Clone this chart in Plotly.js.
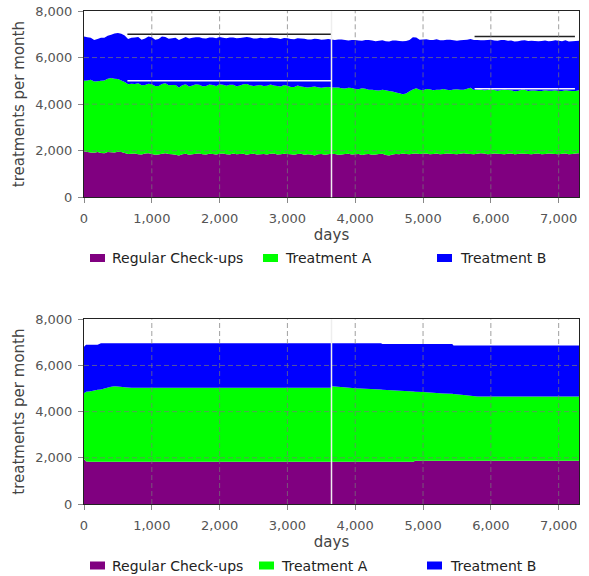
<!DOCTYPE html>
<html>
<head>
<meta charset="utf-8">
<script src="https://cdn.plot.ly/plotly-3.0.1.min.js"></script>
<style>
  html, body { margin: 0; padding: 0; background: #ffffff; }
  #chart { width: 589px; height: 576px; }
</style>
</head>
<body>
<div id="chart"></div>
<script>
// ---------- data ----------
// top chart: stochastic run, one value every 50 days
const days = [
  0,50,100,150,200,250,300,350,400,450,
  500,550,600,650,700,750,800,850,900,950,
  1000,1050,1100,1150,1200,1250,1300,1350,1400,1450,
  1500,1550,1600,1650,1700,1750,1800,1850,1900,1950,
  2000,2050,2100,2150,2200,2250,2300,2350,2400,2450,
  2500,2550,2600,2650,2700,2750,2800,2850,2900,2950,
  3000,3050,3100,3150,3200,3250,3300,3350,3400,3450,
  3500,3550,3600,3650,3700,3750,3800,3850,3900,3950,
  4000,4050,4100,4150,4200,4250,4300,4350,4400,4450,
  4500,4550,4600,4650,4700,4750,4800,4850,4900,4950,
  5000,5050,5100,5150,5200,5250,5300,5350,5400,5450,
  5500,5550,5600,5650,5700,5750,5800,5850,5900,5950,
  6000,6050,6100,6150,6200,6250,6300,6350,6400,6450,
  6500,6550,6600,6650,6700,6750,6800,6850,6900,6950,
  7000,7050,7100,7150,7200,7250,7300
];
const checkups = [
  1980,1940,1920,1910,1950,1900,1890,1940,1930,1920,
  1960,1940,1900,1860,1870,1880,1850,1840,1880,1890,
  1860,1830,1840,1870,1890,1860,1850,1830,1800,1850,
  1870,1830,1850,1870,1880,1850,1840,1870,1860,1840,
  1870,1880,1850,1840,1880,1850,1860,1870,1830,1860,
  1870,1840,1850,1860,1840,1870,1880,1840,1850,1870,
  1860,1850,1830,1860,1870,1830,1850,1840,1800,1850,
  1860,1830,1850,1870,1860,1830,1840,1860,1870,1840,
  1850,1860,1820,1850,1860,1830,1840,1860,1870,1820,
  1790,1840,1860,1850,1880,1860,1850,1870,1880,1860,
  1870,1880,1850,1860,1880,1850,1860,1880,1870,1860,
  1850,1870,1890,1870,1860,1850,1870,1890,1880,1850,
  1860,1880,1870,1860,1850,1870,1880,1850,1860,1880,
  1870,1860,1850,1870,1880,1850,1860,1880,1870,1860,
  1850,1870,1880,1850,1860,1880,1890
];
const treatmentA = [
  3020,3080,3130,3060,3030,3100,3130,3150,3190,3170,
  3120,3080,3050,2990,3010,2980,3050,2970,2940,2990,
  2990,2950,2940,3000,3010,2950,2970,2990,2920,2960,
  2980,2930,2950,2980,2950,2920,2940,2970,2960,2940,
  2980,2950,2940,2990,2950,2920,2940,2980,3030,2950,
  2910,2960,2970,2920,2950,2970,2920,2940,2910,2950,
  2930,2890,2910,2940,2890,2910,2870,2900,2960,2880,
  2840,2900,2890,2850,2860,2880,2840,2810,2830,2850,
  2800,2780,2860,2810,2760,2790,2760,2730,2750,2780,
  2770,2700,2640,2620,2540,2600,2700,2760,2800,2760,
  2730,2770,2790,2740,2740,2770,2790,2740,2730,2770,
  2790,2750,2730,2790,2840,2760,2750,2740,2720,2760,
  2780,2730,2710,2750,2770,2740,2720,2700,2710,2740,
  2750,2710,2740,2720,2680,2710,2740,2700,2710,2740,
  2720,2700,2720,2730,2700,2690,2710
];
const treatmentB = [
  1900,1850,1800,1780,1820,1850,1830,1850,1860,1940,
  1970,2000,2000,1950,1970,2000,1980,1960,2000,2030,
  2020,1990,2020,2040,1980,2000,2010,2030,2040,2010,
  2030,2060,2050,2020,2040,2060,2040,2020,2040,2050,
  2030,2020,2040,2030,2030,2060,2040,2010,2020,2050,
  2040,2020,2030,2050,2040,2020,2040,2050,2040,2020,
  2040,2060,2050,2030,2060,2070,2060,2040,2050,2070,
  2070,2050,2060,2060,2040,2070,2100,2080,2030,2070,
  2110,2090,2040,2100,2130,2110,2100,2130,2120,2100,
  2130,2190,2230,2240,2280,2250,2210,2240,2180,2150,
  2180,2140,2120,2160,2170,2120,2090,2150,2170,2110,
  2080,2120,2140,2110,2100,2150,2140,2110,2140,2140,
  2130,2120,2140,2150,2130,2110,2130,2140,2130,2110,
  2120,2140,2130,2120,2140,2150,2130,2120,2130,2140,
  2150,2130,2140,2110,2140,2140,2120
];
// reference levels drawn over the top chart (null = gap)
const refDays  = [640, 3650, null, 5760, 7240];
const refTotal = [7000, 7000, null, 6900, 6900];
const refA     = [5000, 5000, null, 4660, 4660];

// bottom chart: deterministic run
const daysSmooth = [0,30,100,200,250,300,400,450,500,600,700,3640,3660,4000,4300,4380,4400,4600,4860,4880,5000,5300,5430,5450,5600,5800,7300];
const checkupsSmooth = [1950,1840,1830,1830,1830,1830,1830,1830,1830,1830,1830,1830,1830,1830,1830,1830,1830,1830,1830,1875,1875,1875,1875,1875,1875,1875,1875];
const treatmentASmooth = [2850,3020,3050,3120,3130,3170,3250,3270,3260,3230,3200,3200,3270,3180,3140,3125,3120,3090,3040,2990,2975,2915,2895,2890,2845,2785,2785];
const treatmentBSmooth = [2010,2040,2020,1950,2000,1960,1880,1860,1870,1900,1930,1930,1860,1950,1990,2005,1975,2005,2055,2060,2075,2135,2155,2095,2140,2200,2200];

const seriesNames = ['Regular Check-ups', 'Treatment A', 'Treatment B'];
const switchDay = 3650;
const xTicks = [1000, 2000, 3000, 4000, 5000, 6000, 7000];
const yTicks = [2000, 4000, 6000];

// ---------- styling ----------
const colors = ['#800080', '#00ff00', '#0000ff'];
const FONT = 'DejaVu Sans, Verdana, sans-serif';
const W = 589, H = 576;
const M = { l: 84, r: 10, t: 11, b: 72 };
const plotW = W - M.l - M.r, plotH = H - M.t - M.b;
const px = x => (x - M.l) / plotW;          // pixel -> paper x
const py = y => (H - M.b - y) / plotH;      // pixel -> paper y

function area(x, y, i, xa, ya, grp) {
  return {
    type: 'scatter', mode: 'none', x: x, y: y, name: seriesNames[i],
    stackgroup: grp, fillcolor: colors[i], xaxis: xa, yaxis: ya,
    hoverinfo: 'skip', showlegend: false
  };
}

const traces = [
  area(days, checkups, 0, 'x', 'y', 'top'),
  area(days, treatmentA, 1, 'x', 'y', 'top'),
  area(days, treatmentB, 2, 'x', 'y', 'top'),
  { type: 'scatter', mode: 'lines', x: refDays, y: refTotal, xaxis: 'x', yaxis: 'y',
    line: { color: '#222222', width: 1.5 }, hoverinfo: 'skip', showlegend: false, connectgaps: false },
  { type: 'scatter', mode: 'lines', x: refDays, y: refA, xaxis: 'x', yaxis: 'y',
    line: { color: '#f4f4ff', width: 1.5 }, hoverinfo: 'skip', showlegend: false, connectgaps: false },
  area(daysSmooth, checkupsSmooth, 0, 'x2', 'y2', 'bottom'),
  area(daysSmooth, treatmentASmooth, 1, 'x2', 'y2', 'bottom'),
  area(daysSmooth, treatmentBSmooth, 2, 'x2', 'y2', 'bottom')
];

function xaxis(anchor) {
  return {
    anchor: anchor, domain: [0, 1], range: [0, 7300], dtick: 1000, tick0: 0,
    tickformat: ',d', showgrid: false, zeroline: false,
    showline: true, mirror: true, linecolor: '#222222', linewidth: 1,
    ticks: 'outside', ticklen: 5, tickcolor: '#888888',
    tickfont: { family: FONT, size: 13, color: '#555555' },
    ticklabelstandoff: 4,
    title: { text: 'days', font: { family: FONT, size: 15, color: '#444444' }, standoff: 2 },
    fixedrange: true
  };
}
function yaxis(anchor, domain) {
  return {
    anchor: anchor, domain: domain, range: [0, 8000], dtick: 2000, tick0: 0,
    tickformat: ',d', showgrid: false, zeroline: false,
    showline: true, mirror: true, linecolor: '#222222', linewidth: 1,
    ticks: 'outside', ticklen: 5, tickcolor: '#888888',
    tickfont: { family: FONT, size: 13, color: '#555555' },
    ticklabelstandoff: 3,
    title: { text: 'treatments per month', font: { family: FONT, size: 15, color: '#444444' }, standoff: 6 },
    fixedrange: true
  };
}

const topDomain = [py(197.3), 1];
const botDomain = [0, py(319.3)];

const shapes = [];
const gridLine = { color: 'rgba(120,120,120,0.7)', width: 1, dash: '5px,3px' };
[['x', 'y'], ['x2', 'y2']].forEach(([xa, ya]) => {
  xTicks.forEach(t => shapes.push({ type: 'line', layer: 'above', xref: xa, yref: ya + ' domain',
    x0: t, x1: t, y0: 0, y1: 1, line: gridLine }));
  yTicks.forEach(t => shapes.push({ type: 'line', layer: 'above', xref: xa + ' domain', yref: ya,
    x0: 0, x1: 1, y0: t, y1: t, line: gridLine }));
  shapes.push({ type: 'line', layer: 'above', xref: xa, yref: ya + ' domain',
    x0: switchDay, x1: switchDay, y0: 0, y1: 1, line: { color: '#eeeeee', width: 1.5 } });
});

// legends (one under each chart)
const annotations = [];
const legendRows = [
  { y: 258, sq: [90, 263, 437], tx: [110, 283, 458] },
  { y: 565.5, sq: [90, 259, 427], tx: [110, 279, 448] }
];
legendRows.forEach(row => {
  seriesNames.forEach((name, i) => {
    shapes.push({ type: 'rect', xref: 'paper', yref: 'paper',
      x0: px(row.sq[i]), x1: px(row.sq[i] + 15), y0: py(row.y + 4), y1: py(row.y - 4),
      fillcolor: colors[i], line: { width: 0 } });
    annotations.push({ xref: 'paper', yref: 'paper', x: px(row.tx[i]), y: py(row.y),
      xanchor: 'left', yanchor: 'middle', showarrow: false, text: name,
      font: { family: FONT, size: 14, color: '#222222' } });
  });
});

const layout = {
  width: W, height: H, margin: M,
  paper_bgcolor: '#ffffff', plot_bgcolor: '#ffffff',
  showlegend: false,
  xaxis: xaxis('y'),
  yaxis: yaxis('x', topDomain),
  xaxis2: xaxis('y2'),
  yaxis2: yaxis('x2', botDomain),
  shapes: shapes,
  annotations: annotations
};

Plotly.newPlot('chart', traces, layout, { staticPlot: true, displayModeBar: false });
</script>
</body>
</html>
